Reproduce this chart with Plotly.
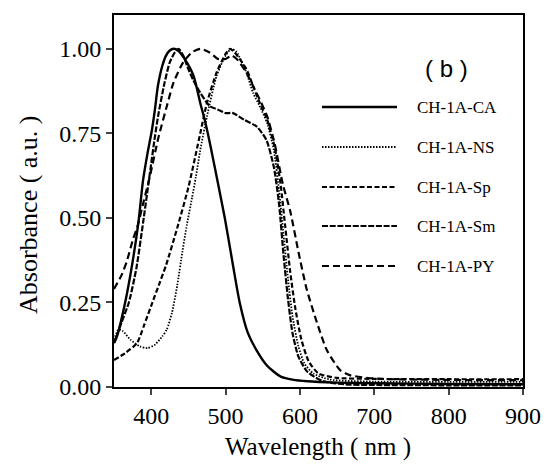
import plotly.graph_objects as go

# ---- data ----
wl_ca = [350, 354, 365, 375, 383, 389, 395, 401, 405, 409, 415, 420, 425, 430, 436, 445, 457, 466, 472, 480, 490, 499, 510, 519, 530, 544, 555, 565, 575, 590, 610, 650, 700, 800, 900]
ab_ca = [0.13, 0.15, 0.25, 0.37, 0.49, 0.61, 0.69, 0.76, 0.82, 0.89, 0.95, 0.98, 0.995, 1.0, 0.995, 0.97, 0.92, 0.84, 0.79, 0.71, 0.60, 0.50, 0.36, 0.25, 0.16, 0.10, 0.065, 0.045, 0.03, 0.022, 0.017, 0.013, 0.011, 0.009, 0.008]

wl_ns = [350, 356, 362, 372, 385, 395, 405, 415, 421, 428, 435, 442, 448, 455, 460, 466, 475, 488, 500, 508, 515, 528, 537, 546, 556, 565, 572, 578, 584, 590, 598, 606, 618, 640, 700, 800, 900]
ab_ns = [0.14, 0.17, 0.165, 0.14, 0.12, 0.115, 0.125, 0.15, 0.17, 0.22, 0.30, 0.40, 0.48, 0.56, 0.62, 0.70, 0.80, 0.92, 0.98, 1.0, 0.99, 0.93, 0.87, 0.83, 0.78, 0.70, 0.58, 0.45, 0.32, 0.21, 0.12, 0.07, 0.04, 0.022, 0.016, 0.015, 0.015]

wl_sp = [350, 365, 381, 390, 400, 410, 420, 435, 450, 466, 475, 488, 500, 506, 512, 528, 537, 546, 556, 566, 574, 580, 587, 594, 602, 612, 625, 650, 700, 800, 900]
ab_sp = [0.08, 0.10, 0.13, 0.18, 0.24, 0.30, 0.36, 0.47, 0.59, 0.75, 0.84, 0.93, 0.985, 1.0, 0.99, 0.94, 0.89, 0.84, 0.79, 0.71, 0.60, 0.48, 0.34, 0.23, 0.14, 0.075, 0.04, 0.027, 0.024, 0.023, 0.023]

wl_sm = [350, 360, 370, 380, 390, 395, 400, 405, 410, 418, 425, 432, 437, 443, 450, 456, 466, 479, 490, 500, 510, 525, 542, 555, 565, 572, 578, 584, 590, 598, 610, 630, 660, 700, 800, 900]
ab_sm = [0.13, 0.19, 0.25, 0.35, 0.50, 0.58, 0.66, 0.74, 0.81, 0.90, 0.96, 0.99, 1.0, 0.98, 0.94, 0.91, 0.87, 0.83, 0.82, 0.81, 0.81, 0.79, 0.77, 0.73, 0.65, 0.54, 0.39, 0.26, 0.16, 0.09, 0.045, 0.018, 0.008, 0.006, 0.005, 0.005]

wl_py = [350, 360, 367, 376, 381, 390, 398, 410, 421, 430, 443, 455, 466, 478, 490, 500, 508, 515, 528, 537, 546, 556, 566, 577, 587, 598, 609, 623, 636, 654, 667, 700, 800, 900]
ab_py = [0.29, 0.33, 0.37, 0.44, 0.47, 0.55, 0.62, 0.74, 0.83, 0.90, 0.96, 0.99, 1.0, 0.99, 0.97, 0.97, 0.98, 0.97, 0.93, 0.89, 0.85, 0.80, 0.72, 0.60, 0.52, 0.40, 0.29, 0.19, 0.11, 0.05, 0.035, 0.025, 0.021, 0.02]

names = ["CH-1A-CA", "CH-1A-NS", "CH-1A-Sp", "CH-1A-Sm", "CH-1A-PY"]
x_ticks = [400, 500, 600, 700, 800, 900]
y_ticks = [0.0, 0.25, 0.5, 0.75, 1.0]

series = [(wl_ca, ab_ca), (wl_ns, ab_ns), (wl_sp, ab_sp), (wl_sm, ab_sm), (wl_py, ab_py)]
dashes = ["solid", "1.5px,1.5px", "5px,2.5px", "6px,1.7px", "7px,4px"]
widths = [2.4, 1.8, 2.2, 2.2, 2.2]

SERIF = "Liberation Serif"

fig = go.Figure()
for (x, y), n, d, w in zip(series, names, dashes, widths):
    fig.add_trace(go.Scatter(x=x, y=y, mode="lines", name=n,
                             line=dict(color="black", width=w, dash=d, shape="spline", smoothing=0.6),
                             showlegend=False, hoverinfo="skip"))

# plot area in window px: x 114..523, y 15..387 (body margin removed by post_script)
PL, PR, PT, PB = 114, 523, 15, 387
W, H = 546, 472
pw, ph = PR - PL, PB - PT


def px(X):
    return (X - PL) / pw


def py(Y):
    return 1 - (Y - PT) / ph


leg_y = [107, 147, 187, 226, 266]
for n, d, w, yy in zip(names, dashes, widths, leg_y):
    fig.add_shape(type="line", xref="paper", yref="paper", x0=px(322), x1=px(397), y0=py(yy), y1=py(yy),
                  line=dict(color="black", width=w, dash=d))
    fig.add_annotation(xref="paper", yref="paper", x=px(415), y=py(yy), text=n,
                       showarrow=False, xanchor="left", yanchor="middle",
                       font=dict(family=SERIF, size=17, color="black"))

fig.add_annotation(xref="paper", yref="paper", x=px(446), y=py(68),
                   text="( b )", showarrow=False, xanchor="center", yanchor="middle",
                   font=dict(family="Liberation Sans", size=24, color="black"))

fig.add_annotation(xref="paper", yref="paper", x=px(318), y=py(447),
                   text="Wavelength ( nm )", showarrow=False, xanchor="center", yanchor="middle",
                   font=dict(family=SERIF, size=25, color="black"))
fig.add_annotation(xref="paper", yref="paper", x=px(28), y=py(215),
                   text="Absorbance ( a.u. )", showarrow=False, xanchor="center", yanchor="middle",
                   textangle=-90, font=dict(family=SERIF, size=26, color="black"))

fig.update_layout(
    width=W, height=H,
    margin=dict(l=PL, r=W - PR, t=PT, b=H - PB, autoexpand=False),
    paper_bgcolor="white", plot_bgcolor="white",
    font=dict(family=SERIF, size=24, color="black"),
)
fig.update_xaxes(range=[350, 900], tickvals=x_ticks, ticks="outside", ticklen=6, tickwidth=1.5,
                 showline=True, linewidth=2, linecolor="black", mirror=True, showgrid=False, zeroline=False,
                 ticklabeloverflow="allow", tickfont=dict(family=SERIF, size=24, color="black"))
fig.update_yaxes(range=[0, 1.1], tickvals=y_ticks, tickformat=".2f", ticks="outside", ticklen=6, tickwidth=1.5,
                 showline=True, linewidth=2, linecolor="black", mirror=True, showgrid=False, zeroline=False,
                 ticklabeloverflow="allow", tickfont=dict(family=SERIF, size=24, color="black"))

fig.write_html("out.html", config={"displayModeBar": False},
               post_script="document.body.style.margin='0';document.body.style.overflow='hidden';")
